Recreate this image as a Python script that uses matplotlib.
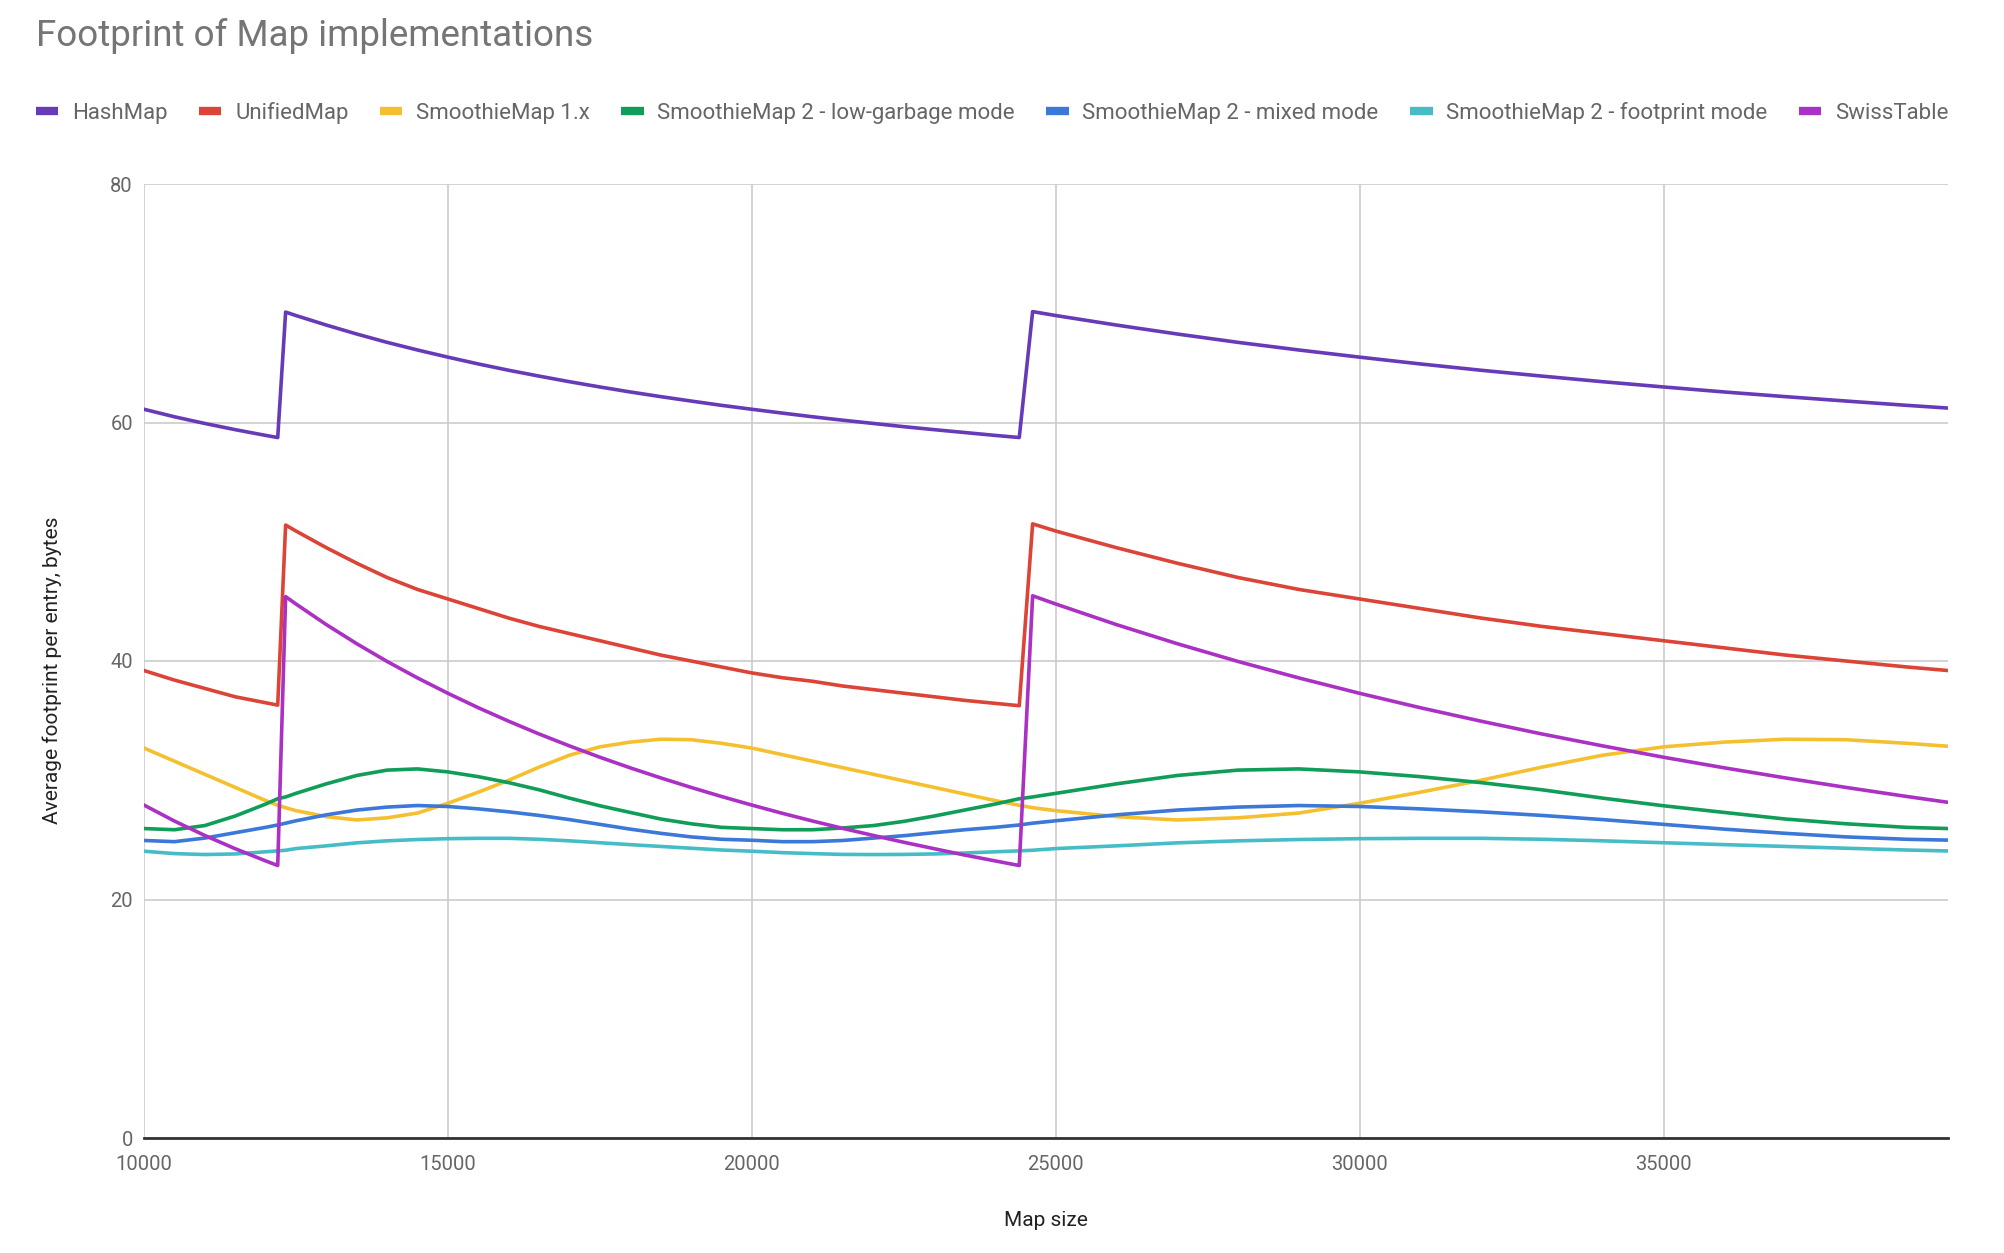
import matplotlib
matplotlib.use("Agg")
import matplotlib.pyplot as plt
from matplotlib.lines import Line2D

plt.rcParams['font.family'] = ['Roboto', 'DejaVu Sans']

map_size = [10000, 10500, 11000, 11500, 12000, 12200,
            12330, 12500, 13000, 13500, 14000, 14500, 15000, 15500, 16000, 16500,
            17000, 17500, 18000, 18500, 19000, 19500, 20000, 20500, 21000, 21500,
            22000, 22500, 23000, 23500, 24000, 24400,
            24620, 25000, 26000, 27000, 28000, 29000, 30000, 31000, 32000, 33000,
            34000, 35000, 36000, 37000, 38000, 39000, 39680]

hashmap = [61.11, 60.48, 59.92, 59.40, 58.92, 58.74,
           69.26, 68.97, 68.17, 67.42, 66.72, 66.08, 65.48, 64.91, 64.38, 63.89,
           63.42, 62.98, 62.56, 62.17, 61.80, 61.44, 61.11, 60.79, 60.48, 60.19,
           59.92, 59.65, 59.40, 59.16, 58.92, 58.74,
           69.30, 68.97, 68.17, 67.42, 66.72, 66.08, 65.48, 64.91, 64.38, 63.89,
           63.42, 62.98, 62.56, 62.17, 61.80, 61.44, 61.21]

unifiedmap = [39.2, 38.4, 37.7, 37.0, 36.5, 36.3,
              51.4, 50.9, 49.5, 48.2, 47.0, 46.0, 45.2, 44.4, 43.6, 42.9,
              42.3, 41.7, 41.1, 40.5, 40.0, 39.5, 39.0, 38.6, 38.3, 37.9,
              37.6, 37.3, 37.0, 36.7, 36.45, 36.25,
              51.5, 50.9, 49.5, 48.2, 47.0, 46.0, 45.2, 44.4, 43.6, 42.9,
              42.3, 41.7, 41.1, 40.5, 40.0, 39.5, 39.2]

smoothie1 = [32.7, 31.6, 30.5, 29.4, 28.3, 27.9,
             27.7, 27.45, 26.95, 26.67, 26.85, 27.25, 28.07, 29.0, 30.0, 31.1,
             32.1, 32.8, 33.2, 33.44, 33.4, 33.1, 32.7, 32.15, 31.6, 31.05,
             30.5, 29.95, 29.4, 28.85, 28.3, 27.9,
             27.7, 27.45, 26.95, 26.67, 26.85, 27.25, 28.07, 29.0, 30.0, 31.1,
             32.1, 32.8, 33.2, 33.44, 33.4, 33.1, 32.85]

smoothie2_lowgarbage = [25.95, 25.85, 26.2, 27.0, 28.0, 28.45,
                        28.6, 28.9, 29.7, 30.4, 30.85, 30.95, 30.7, 30.3, 29.8, 29.2,
                        28.5, 27.86, 27.3, 26.75, 26.35, 26.05, 25.95, 25.85, 25.85, 26.0,
                        26.2, 26.55, 27.0, 27.5, 28.0, 28.45,
                        28.6, 28.9, 29.7, 30.4, 30.85, 30.95, 30.7, 30.3, 29.8, 29.2,
                        28.5, 27.86, 27.3, 26.75, 26.35, 26.05, 25.95]

smoothie2_mixed = [24.95, 24.85, 25.15, 25.6, 26.05, 26.25,
                   26.4, 26.6, 27.1, 27.5, 27.75, 27.88, 27.8, 27.6, 27.35, 27.05,
                   26.7, 26.3, 25.9, 25.55, 25.25, 25.05, 24.97, 24.85, 24.85, 24.95,
                   25.15, 25.35, 25.6, 25.85, 26.05, 26.25,
                   26.4, 26.6, 27.1, 27.5, 27.75, 27.88, 27.8, 27.6, 27.35, 27.05,
                   26.7, 26.3, 25.9, 25.55, 25.25, 25.05, 24.98]

smoothie2_footprint = [24.05, 23.85, 23.77, 23.82, 24.0, 24.08,
                       24.13, 24.27, 24.5, 24.75, 24.92, 25.03, 25.1, 25.13, 25.13, 25.05,
                       24.92, 24.76, 24.6, 24.45, 24.3, 24.15, 24.05, 23.93, 23.85, 23.78,
                       23.77, 23.78, 23.82, 23.9, 24.0, 24.08,
                       24.13, 24.27, 24.5, 24.75, 24.92, 25.03, 25.1, 25.13, 25.13, 25.05,
                       24.92, 24.76, 24.6, 24.45, 24.3, 24.15, 24.07]

swisstable = [27.92, 26.58, 25.37, 24.26, 23.24, 22.85,
              45.40, 44.78, 43.05, 41.45, 39.96, 38.58, 37.29, 36.08, 34.95, 33.88,
              32.88, 31.93, 31.04, 30.20, 29.40, 28.64, 27.92, 27.23, 26.58, 25.96,
              25.37, 24.80, 24.26, 23.73, 23.24, 22.85,
              45.47, 44.78, 43.05, 41.45, 39.96, 38.58, 37.29, 36.08, 34.95, 33.88,
              32.88, 31.93, 31.04, 30.20, 29.40, 28.64, 28.15]

series_names = ["HashMap", "UnifiedMap", "SmoothieMap 1.x",
                "SmoothieMap 2 - low-garbage mode", "SmoothieMap 2 - mixed mode",
                "SmoothieMap 2 - footprint mode", "SwissTable"]
series_values = [hashmap, unifiedmap, smoothie1, smoothie2_lowgarbage,
                 smoothie2_mixed, smoothie2_footprint, swisstable]
colors = ["#673AB7", "#DB4437", "#F5C02F", "#0F9D58", "#3C78D8", "#46BDC6", "#AB30C4"]

x_ticks = [10000, 15000, 20000, 25000, 30000, 35000]
y_ticks = [0, 20, 40, 60, 80]

W, H = 2004, 1253
fig = plt.figure(figsize=(W / 100, H / 100), dpi=100)
ax = fig.add_axes([144 / W, 1 - 1138 / H, (1948 - 144) / W, (1138 - 184) / H])

for name, vals, col in zip(series_names, series_values, colors):
    ax.plot(map_size, vals, color=col, linewidth=2.6, label=name,
            solid_joinstyle='round', zorder=3)

ax.set_xlim(10000, 39680)
ax.set_ylim(0, 80)
ax.set_xticks(x_ticks)
ax.set_yticks(y_ticks)
ax.grid(True, color="#cccccc", linewidth=1.2, zorder=0)
for s in ["top", "right", "left"]:
    ax.spines[s].set_visible(False)
ax.spines["bottom"].set_color("#333333")
ax.spines["bottom"].set_linewidth(2.0)
ax.spines["bottom"].set_zorder(4)
ax.tick_params(length=0, labelsize=14.5, labelcolor="#666666")
ax.tick_params(axis='y', pad=8)
ax.tick_params(axis='x', pad=12)

ax.set_xlabel("Map size", fontsize=15, color="#222222")
ax.set_ylabel("Average footprint per entry, bytes", fontsize=15, color="#222222")
ax.xaxis.set_label_coords(0.5, -0.0765)
ax.yaxis.set_label_coords(-0.0455, 0.49)

fig.text(36 / W, 1 - 36 / H, "Footprint of Map implementations", fontsize=26.5,
         color="#757575", ha="left", va="center")

handles = [Line2D([0], [0], color=c, linewidth=6, solid_capstyle='butt') for c in colors]
fig.legend(handles, series_names, loc="center left", bbox_to_anchor=(36 / W, 1 - 113 / H),
           ncol=7, frameon=False, fontsize=16.0, handlelength=1.0, handletextpad=0.62,
           columnspacing=1.42, borderaxespad=0, borderpad=0, labelcolor="#666666")

fig.savefig("out.png", dpi=100, facecolor="white")
